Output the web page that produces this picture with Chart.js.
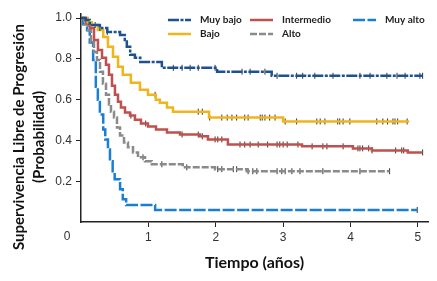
<!DOCTYPE html>
<html lang="es">
<head>
<meta charset="UTF-8">
<title>Supervivencia libre de progresión</title>
<script src="https://cdn.jsdelivr.net/npm/chart.js"></script>
<style>
  body { margin: 0; background: #fff; }
  #wrap { width: 437px; height: 281px; }
</style>
</head>
<body>
<div id="wrap"><canvas id="kmChart"></canvas></div>
<script>
const xTicks = [1, 2, 3, 4, 5];
const yTicks = [0.2, 0.4, 0.6, 0.8, 1.0];
const originLabel = "0";

// tiempo (años) de cada caída y probabilidad después de ella; el último punto es el fin del seguimiento
const muyBajoT = [0, 0.07, 0.13, 0.28, 0.39, 0.58, 0.65, 0.68, 0.73, 0.80, 0.88, 1.20, 2.02, 2.83, 5.07];
const muyBajoS = [1, 0.99, 0.966, 0.951, 0.932, 0.917, 0.893, 0.859, 0.82, 0.805, 0.785, 0.756, 0.737, 0.717, 0.717];

const bajoT = [0, 0.10, 0.16, 0.25, 0.33, 0.40, 0.475, 0.55, 0.62, 0.74, 0.875, 0.994, 1.11, 1.17, 1.276, 1.365, 1.90, 3.0, 4.87];
const bajoS = [1, 0.98, 0.966, 0.941, 0.907, 0.859, 0.81, 0.761, 0.722, 0.683, 0.649, 0.624, 0.60, 0.585, 0.561, 0.541, 0.512, 0.493, 0.493];

const intermedioT = [0, 0.074, 0.134, 0.193, 0.252, 0.312, 0.371, 0.415, 0.46, 0.504, 0.549, 0.593, 0.653, 0.727, 0.801, 0.89, 0.994, 1.113, 1.276, 1.469, 1.766, 1.884, 2.18, 3.28, 4.036, 4.318, 4.85, 5.07];
const intermedioS = [1, 0.975, 0.951, 0.893, 0.844, 0.805, 0.771, 0.722, 0.668, 0.624, 0.59, 0.561, 0.537, 0.522, 0.502, 0.483, 0.468, 0.454, 0.439, 0.429, 0.42, 0.405, 0.38, 0.371, 0.361, 0.351, 0.341, 0.341];

const altoT = [0, 0.045, 0.104, 0.148, 0.193, 0.237, 0.282, 0.326, 0.371, 0.415, 0.445, 0.49, 0.534, 0.579, 0.638, 0.697, 0.772, 0.846, 0.95, 1.05, 1.51, 1.99, 2.46, 4.58];
const altoS = [1, 0.97, 0.941, 0.883, 0.834, 0.795, 0.737, 0.678, 0.624, 0.576, 0.541, 0.512, 0.463, 0.424, 0.39, 0.366, 0.341, 0.317, 0.298, 0.283, 0.268, 0.259, 0.249, 0.249];

const muyAltoT = [0, 0.03, 0.09, 0.13, 0.18, 0.22, 0.25, 0.28, 0.33, 0.36, 0.40, 0.43, 0.47, 0.50, 0.58, 0.62, 0.67, 1.10, 4.99];
const muyAltoS = [1, 0.97, 0.94, 0.88, 0.795, 0.663, 0.60, 0.527, 0.454, 0.405, 0.356, 0.298, 0.249, 0.21, 0.161, 0.112, 0.083, 0.059, 0.059];

// censuras (marcas verticales)
const muyBajoCens = [0.28, 0.39, 1.37, 1.50, 1.62, 1.74, 1.99, 2.39, 2.51, 2.73, 2.91, 3.20, 3.29, 3.47, 3.74, 4.14, 4.29, 4.54, 4.69, 4.81, 5.03, 5.07];
const bajoCens = [0.21, 1.10, 1.74, 1.80, 1.91, 2.09, 2.17, 2.24, 2.31, 2.43, 2.48, 2.66, 2.69, 2.73, 2.80, 2.88, 3.03, 3.20, 3.50, 3.55, 3.62, 3.81, 3.84, 3.89, 3.99, 4.39, 4.48, 4.55, 4.63, 4.66, 4.70, 4.84];
const intermedioCens = [0.74, 0.96, 1.50, 1.74, 1.80, 1.99, 2.03, 2.09, 2.36, 2.43, 2.51, 2.63, 2.77, 2.91, 2.95, 3.00, 3.06, 3.22, 3.43, 3.59, 3.65, 3.89, 4.11, 4.14, 4.18, 4.27, 4.32, 4.67, 4.76, 4.79, 5.07];
const altoCens = [0.92, 1.20, 1.57, 2.03, 2.09, 2.26, 2.31, 2.48, 2.55, 2.61, 2.91, 2.98, 3.03, 3.13, 3.25, 3.59, 4.14, 4.58];
const muyAltoCens = [4.99];

function stepAt(T, S, t) {
  let s = S[0];
  for (let i = 0; i < T.length; i++) if (T[i] <= t) s = S[i];
  return s;
}

const series = [
  { label: "Muy bajo", T: muyBajoT, S: muyBajoS, cens: muyBajoCens, color: "#1d5190", dash: [11, 1.5, 3, 1.5] },
  { label: "Bajo", T: bajoT, S: bajoS, cens: bajoCens, color: "#f0b51c", dash: [] },
  { label: "Intermedio", T: intermedioT, S: intermedioS, cens: intermedioCens, color: "#c0504d", dash: [] },
  { label: "Alto", T: altoT, S: altoS, cens: altoCens, color: "#8a8a8a", dash: [7, 2] },
  { label: "Muy alto", T: muyAltoT, S: muyAltoS, cens: muyAltoCens, color: "#1a7fd2", dash: [12, 2.5] }
];

const datasets = [];
series.forEach(s => {
  datasets.push({
    label: s.label,
    data: s.T.map((t, i) => ({ x: t, y: s.S[i] })),
    borderColor: s.color,
    borderWidth: 2.5,
    borderDash: s.dash,
    stepped: true,
    pointRadius: 0,
    fill: false
  });
  datasets.push({
    label: s.label + " (censura)",
    data: s.cens.map(t => ({ x: t, y: stepAt(s.T, s.S, t) })),
    showLine: false,
    pointStyle: "line",
    rotation: 90,
    pointRadius: 3,
    borderColor: "#333",
    borderWidth: 1
  });
});

// leyenda en 3 columnas y 2 filas, título del eje y, y el "0" del origen
const legendSlots = {
  "Muy bajo": [168, 20], "Intermedio": [250, 20], "Muy alto": [353, 20],
  "Bajo": [168, 34], "Alto": [250, 34]
};
const extrasPlugin = {
  id: "kmExtras",
  afterDraw(chart) {
    const ctx = chart.ctx;
    ctx.save();
    series.forEach(s => {
      const [x, y] = legendSlots[s.label];
      ctx.beginPath();
      ctx.strokeStyle = s.color;
      ctx.lineWidth = 2.5;
      ctx.setLineDash(s.dash);
      ctx.moveTo(x, y);
      ctx.lineTo(x + 23, y);
      ctx.stroke();
      ctx.setLineDash([]);
      ctx.fillStyle = "#222";
      ctx.font = "bold 10px Lato";
      ctx.textBaseline = "middle";
      ctx.fillText(s.label, x + 32, y);
    });

    const xs = chart.scales.x;
    ctx.font = "12px 'Liberation Sans'";
    ctx.fillStyle = "#333";
    ctx.textAlign = "center";
    ctx.textBaseline = "middle";
    ctx.fillText(originLabel, xs.getPixelForValue(0) - 14, 237);

    ctx.translate(0, 137);
    ctx.rotate(-Math.PI / 2);
    ctx.font = "bold 15px Lato";
    ctx.fillStyle = "#111";
    ctx.fillText("Supervivencia Libre de Progresión", 0, 19);
    ctx.fillText("(Probabilidad)", 0, 39);
    ctx.restore();
  }
};

new Chart(document.getElementById("kmChart"), {
  type: "line",
  data: { datasets: datasets },
  plugins: [extrasPlugin],
  options: {
    responsive: true,
    maintainAspectRatio: false,
    animation: false,
    layout: { padding: { left: 6, right: 9, top: 14, bottom: 9 } },
    plugins: { legend: { display: false }, tooltip: { enabled: false } },
    scales: {
      x: {
        type: "linear",
        min: 0,
        max: 5.15,
        afterBuildTicks: axis => { axis.ticks = xTicks.map(v => ({ value: v })); },
        afterFit: axis => { axis.height = 50; },
        border: { color: "#222", width: 1.5 },
        grid: { drawOnChartArea: false, drawTicks: true, tickLength: 5, color: "#222" },
        ticks: {
          padding: 3,
          color: "#333",
          font: { family: "Liberation Sans", size: 12 }
        },
        title: {
          display: true,
          text: "Tiempo (años)",
          color: "#111",
          font: { family: "Lato", size: 16, weight: "bold" },
          padding: { top: 8, bottom: 0 }
        }
      },
      y: {
        type: "linear",
        min: 0,
        max: 1.02,
        afterBuildTicks: axis => { axis.ticks = yTicks.map(v => ({ value: v })); },
        afterFit: axis => { axis.width = 75; },
        border: { color: "#222", width: 1.5 },
        grid: { drawOnChartArea: false, drawTicks: true, tickLength: 5, color: "#222" },
        ticks: {
          padding: 4,
          color: "#333",
          font: { family: "Liberation Sans", size: 12 },
          callback: v => v.toFixed(1)
        }
      }
    }
  }
});
</script>
</body>
</html>
